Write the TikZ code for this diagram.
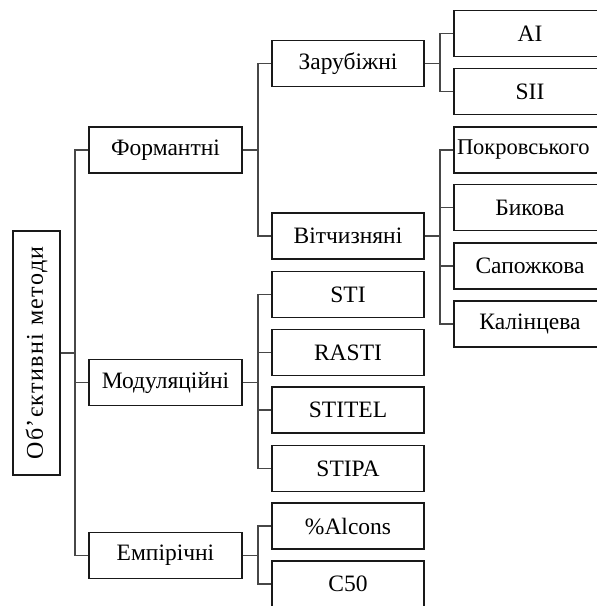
\documentclass[tikz,border=0pt]{standalone}
\usepackage{fontspec}
\setmainfont{Liberation Serif}
\begin{document}
\begin{tikzpicture}[x=1pt,y=-1pt,
  box/.style={draw=black!90, line width=1.6pt, minimum width=152pt, minimum height=46pt, inner sep=0pt, font=\fontsize{23.5}{28}\selectfont},
  rootbox/.style={draw=black!90, line width=1.6pt, minimum width=244pt, minimum height=47pt, inner sep=0pt, rotate=90, font=\fontsize{24}{28}\selectfont\addfontfeature{LetterSpace=6}},
  link/.style={draw=black!72, line width=1.8pt}]
\useasboundingbox (0,0) rectangle (597,606);
\clip (0,0) rectangle (597,606);
% root
\node[rootbox] (root) at (36.5,353) {Об’єктивні методи};
% level 1
\node[box, minimum width=153pt] (form) at (165.5,150) {Формантні};
\node[box, minimum width=153pt] (mod) at (165.5,382.5) {Модуляційні};
\node[box, minimum width=153pt] (emp) at (165.5,555.5) {Емпірічні};
% level 2
\node[box] (zar) at (348,63.5) {Зарубіжні};
\node[box] (vit) at (348,236) {Вітчизняні};
\node[box] (sti) at (348,294.5) {STI};
\node[box] (rasti) at (348,352.5) {RASTI};
\node[box] (stitel) at (348,410) {STITEL};
\node[box] (stipa) at (348,468.5) {STIPA};
\node[box] (alc) at (348,526) {\%Alcons};
\node[box] (c50) at (348,584) {C50};
% level 3
\node[box] (ai) at (530,33.5) {AI};
\node[box] (sii) at (530,91.5) {SII};
\node[box, font=\fontsize{22.5}{27}\selectfont, text width=146pt, align=left] (pok) at (530,150) {Покровського};
\node[box] (byk) at (530,207.5) {Бикова};
\node[box] (sap) at (530,266) {Сапожкова};
\node[box] (kal) at (530,324) {Калінцева};
% connectors
\foreach \c in {form,mod,emp} \draw[link] (root.south) -- ++(14,0) |- (\c.west);
\foreach \c in {zar,vit} \draw[link] (form.east) -- ++(15,0) |- (\c.west);
\foreach \c in {sti,rasti,stitel,stipa} \draw[link] (mod.east) -- ++(15,0) |- (\c.west);
\foreach \c in {alc,c50} \draw[link] (emp.east) -- ++(15,0) |- (\c.west);
\foreach \c in {ai,sii} \draw[link] (zar.east) -- ++(15,0) |- (\c.west);
\foreach \c in {pok,byk,sap,kal} \draw[link] (vit.east) -- ++(15,0) |- (\c.west);
\end{tikzpicture}
\end{document}
